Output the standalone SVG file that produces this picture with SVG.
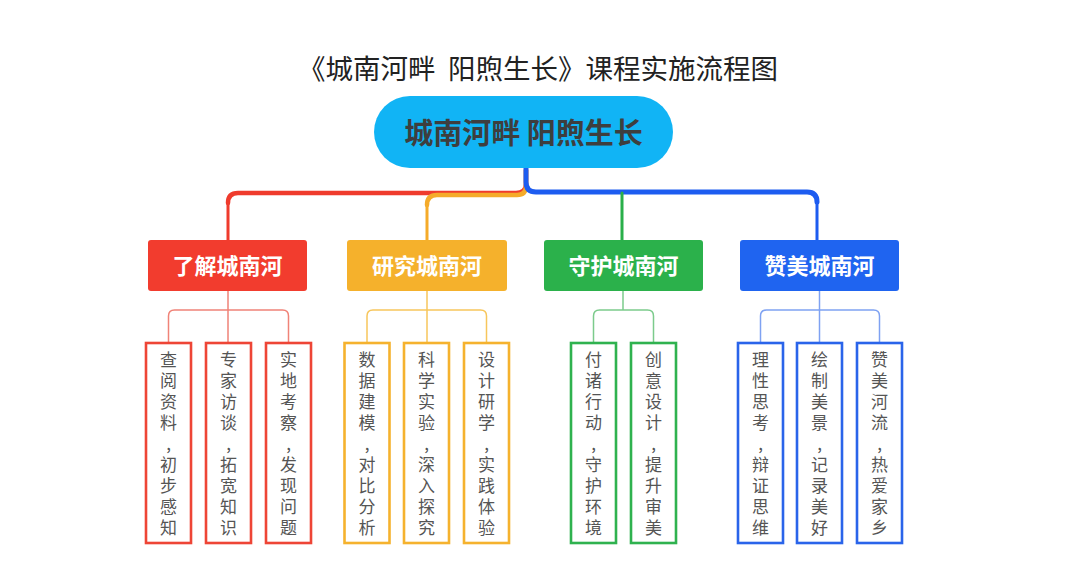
<svg xmlns="http://www.w3.org/2000/svg" width="1080" height="572" viewBox="0 0 1080 572">
<style>
.t{font-family:"Noto Sans CJK SC","Noto Sans",sans-serif;}
.title{font-size:27.5px;fill:#222;text-anchor:middle;white-space:pre;}
.root{font-size:29px;font-weight:bold;fill:#3e3e3e;text-anchor:middle;white-space:pre;}
.l1{font-size:22px;font-weight:bold;fill:#fff;text-anchor:middle;}
.lf{font-size:17px;fill:#555;writing-mode:vertical-rl;text-orientation:upright;letter-spacing:4px;}
.box{fill:#fff;stroke-width:2.6;}
.c{fill:none;stroke-linecap:round;stroke-linejoin:round;}
.c2{fill:none;stroke-width:1.5;}
</style>
<rect width="1080" height="572" fill="#fff"/>
<text class="t title" x="538" y="79">《城南河畔  阳煦生长》课程实施流程图</text>

<g id="connectors">
  <path class="c" d="M526 170 V184 Q526 193 516 193 H238 Q228 193 228 203" stroke="#ef3b2d" stroke-width="4.5"/>
  <path class="c" d="M228 203 V240" stroke="#ef3b2d" stroke-width="3"/>
  <path class="c" d="M526 170 V186 Q526 195 517 195 H437 Q427 195 427 205" stroke="#f5ab2a" stroke-width="4.5"/>
  <path class="c" d="M427 205 V240" stroke="#f5ab2a" stroke-width="3"/>
  <path class="c" d="M526 168 V182 Q526 192 536 192 H807 Q817 192 817 202" stroke="#1d5cf0" stroke-width="5"/>
  <path class="c" d="M817 202 V240" stroke="#1d5cf0" stroke-width="3"/>
  <path class="c" d="M622 193 V240" stroke="#2aaf4a" stroke-width="3"/>
  <path class="c2" stroke="#f08378" d="M228 291 V343 M168.5 343 V316 Q168.5 310 174.5 310 H282.5 Q288.5 310 288.5 316 V343"/>
  <path class="c2" stroke="#f7c65c" d="M427 291 V343 M367 343 V316 Q367 310 373 310 H480.5 Q486.5 310 486.5 316 V343"/>
  <path class="c2" stroke="#7ccb8c" d="M623 291 V310 M593.5 343 V316 Q593.5 310 599.5 310 H647.5 Q653.5 310 653.5 316 V343"/>
  <path class="c2" stroke="#7fa2f2" d="M819.5 291 V343 M760.5 343 V316 Q760.5 310 766.5 310 H873.5 Q879.5 310 879.5 316 V343"/>
</g>

<g id="root">
  <rect x="374" y="96" width="299" height="72" rx="36" fill="#11b4f5"/>
  <text class="t root" x="523.5" y="144">城南河畔 阳煦生长</text>
</g>

<g id="n1">
  <rect x="148" y="240" width="159" height="51" rx="3" fill="#f23c2e"/>
  <text class="t l1" x="227.5" y="274">了解城南河</text>
</g>
<g id="n2">
  <rect x="347" y="240" width="160" height="51" rx="3" fill="#f5b12c"/>
  <text class="t l1" x="427" y="274">研究城南河</text>
</g>
<g id="n3">
  <rect x="544" y="240" width="159" height="51" rx="3" fill="#2bb14b"/>
  <text class="t l1" x="623.5" y="274">守护城南河</text>
</g>
<g id="n4">
  <rect x="740" y="240" width="159" height="51" rx="3" fill="#1f64f0"/>
  <text class="t l1" x="819.5" y="274">赞美城南河</text>
</g>

<g id="r1">
  <rect class="box" x="146" y="343" width="45" height="200" stroke="#ee4536"/>
  <text class="t lf" x="168.5" y="351.5">查阅资料,初步感知</text>
</g>
<g id="r2">
  <rect class="box" x="206" y="343" width="45" height="200" stroke="#ee4536"/>
  <text class="t lf" x="228.5" y="351.5">专家访谈,拓宽知识</text>
</g>
<g id="r3">
  <rect class="box" x="266" y="343" width="45" height="200" stroke="#ee4536"/>
  <text class="t lf" x="288.5" y="351.5">实地考察,发现问题</text>
</g>

<g id="o1">
  <rect class="box" x="344.5" y="343" width="45" height="200" stroke="#f5b22e"/>
  <text class="t lf" x="367" y="351.5">数据建模,对比分析</text>
</g>
<g id="o2">
  <rect class="box" x="404" y="343" width="45" height="200" stroke="#f5b22e"/>
  <text class="t lf" x="426.5" y="351.5">科学实验,深入探究</text>
</g>
<g id="o3">
  <rect class="box" x="464" y="343" width="45" height="200" stroke="#f5b22e"/>
  <text class="t lf" x="486.5" y="351.5">设计研学,实践体验</text>
</g>

<g id="g1">
  <rect class="box" x="571" y="343" width="45" height="200" stroke="#2fb24f"/>
  <text class="t lf" x="593.5" y="351.5">付诸行动,守护环境</text>
</g>
<g id="g2">
  <rect class="box" x="631" y="343" width="45" height="200" stroke="#2fb24f"/>
  <text class="t lf" x="653.5" y="351.5">创意设计,提升审美</text>
</g>

<g id="b1">
  <rect class="box" x="738" y="343" width="45" height="200" stroke="#2a64ea"/>
  <text class="t lf" x="760.5" y="351.5">理性思考,辩证思维</text>
</g>
<g id="b2">
  <rect class="box" x="797" y="343" width="45" height="200" stroke="#2a64ea"/>
  <text class="t lf" x="819.5" y="351.5">绘制美景,记录美好</text>
</g>
<g id="b3">
  <rect class="box" x="857" y="343" width="45" height="200" stroke="#2a64ea"/>
  <text class="t lf" x="879.5" y="351.5">赞美河流,热爱家乡</text>
</g>
</svg>
